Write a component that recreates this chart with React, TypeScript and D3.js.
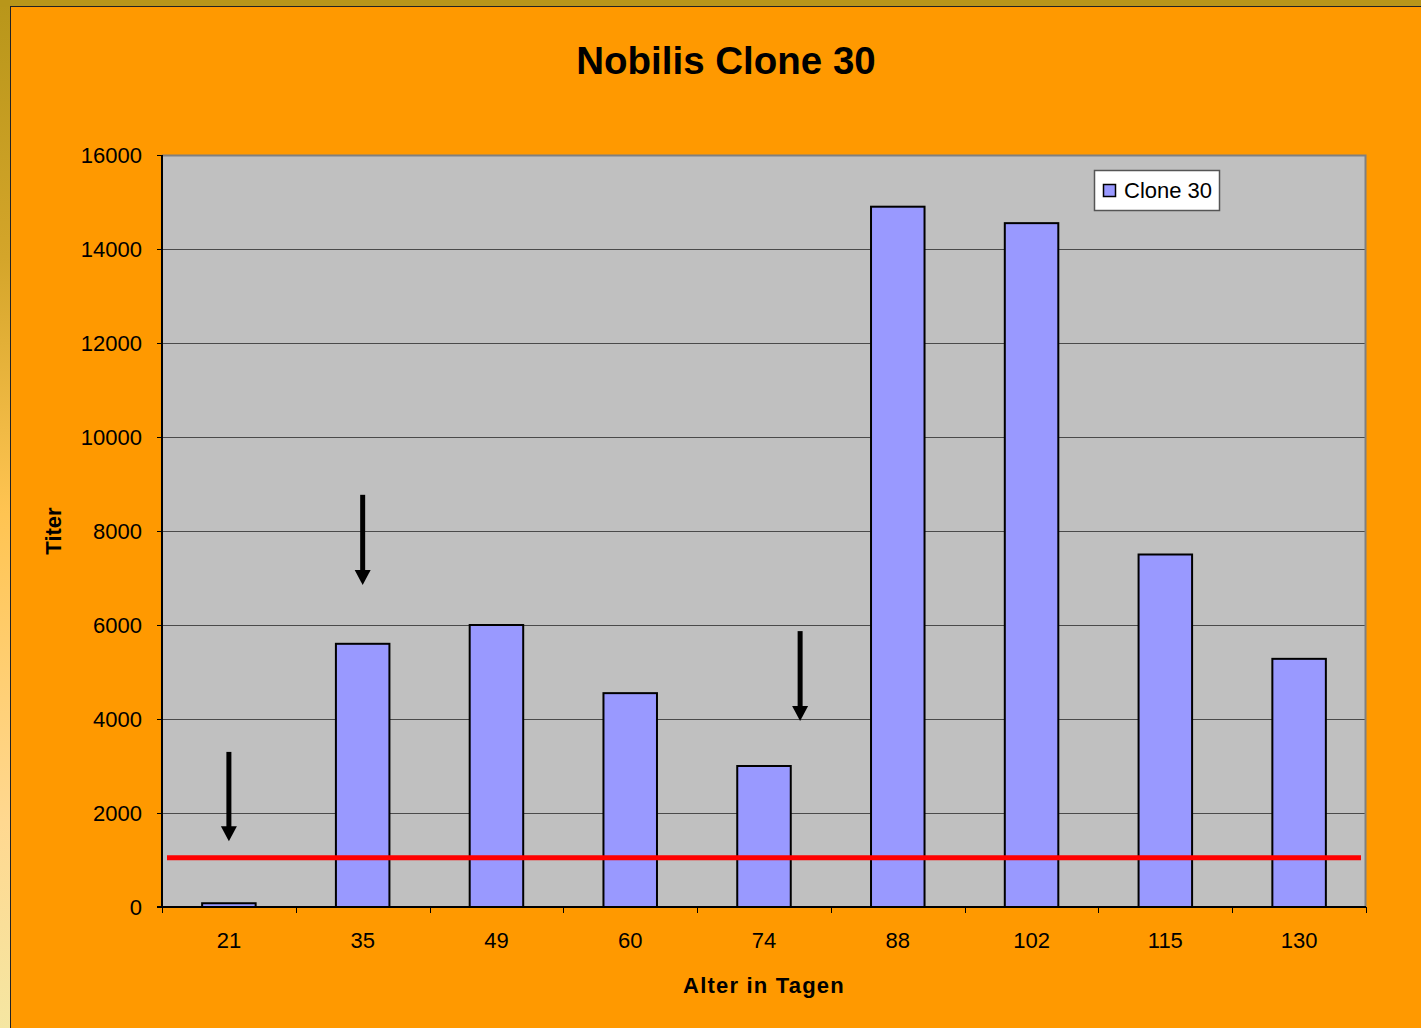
import React, { useEffect, useRef } from 'react';
import * as d3 from 'd3';

// chart data
const categories = ['21', '35', '49', '60', '74', '88', '102', '115', '130'];
const titerValues = [80, 5600, 6000, 4550, 3000, 14900, 14550, 7500, 5280];
const yTicks = [0, 2000, 4000, 6000, 8000, 10000, 12000, 14000, 16000];
const thresholdValue = 1050;
// arrows: x position in category units (0.5 = centre of first band), from/to in titer units
const arrowX = [0.5, 1.5, 4.77];
const arrowFrom = [3300, 8770, 5870];
const arrowTo = [1400, 6850, 3960];

const W = 1421;
const H = 1028;
const FONT = '"Liberation Sans", Arial, sans-serif';

export default function App() {
  const svgRef = useRef<SVGSVGElement>(null);

  useEffect(() => {
    if (!svgRef.current) return;
    const root = d3.select(svgRef.current);
    root.selectAll('*').remove();
    root.attr('width', W).attr('height', H);

    const defs = root.append('defs');
    const grad = defs
      .append('linearGradient')
      .attr('id', 'edgeGrad')
      .attr('x1', 0)
      .attr('y1', 0)
      .attr('x2', 0)
      .attr('y2', 1);
    [
      [0, '#B8961A'],
      [0.25, '#D4A52A'],
      [0.5, '#FFC452'],
      [0.8, '#FFD890'],
      [1, '#F5E6A2'],
    ].forEach(([o, c]) => grad.append('stop').attr('offset', o as number).attr('stop-color', c as string));

    // frame
    root.append('rect').attr('x', 0).attr('y', 0).attr('width', W).attr('height', H).attr('fill', 'url(#edgeGrad)');
    root.append('rect').attr('x', 0).attr('y', 0).attr('width', W).attr('height', 7).attr('fill', '#B8961A');
    root
      .append('rect')
      .attr('x', 10.5)
      .attr('y', 6.5)
      .attr('width', W)
      .attr('height', H)
      .attr('fill', '#FF9900')
      .attr('stroke', '#222')
      .attr('stroke-width', 1);

    const margin = { top: 155, left: 162 };
    const width = 1366 - margin.left;
    const height = 907 - margin.top;

    const g = root.append('g').attr('transform', `translate(${margin.left},${margin.top})`);

    const x = d3.scaleBand().domain(categories).range([0, width]).paddingInner(0.6).paddingOuter(0.3);
    const xLin = d3.scaleLinear().domain([0, categories.length]).range([0, width]);
    const y = d3.scaleLinear().domain([0, 16000]).range([height, 0]);

    // plot area
    g.append('rect').attr('width', width).attr('height', height).attr('fill', '#C0C0C0');

    // grid lines
    g.append('g')
      .selectAll('line')
      .data(yTicks.slice(1))
      .enter()
      .append('line')
      .attr('x1', 0)
      .attr('x2', width)
      .attr('y1', (d) => Math.round(y(d)) + 0.5)
      .attr('y2', (d) => Math.round(y(d)) + 0.5)
      .attr('stroke', '#4a4a4a')
      .attr('stroke-width', 1);

    // plot border top/right
    g.append('path')
      .attr('d', `M0,0.5H${width - 0.5}V${height}`)
      .attr('fill', 'none')
      .attr('stroke', '#808080')
      .attr('stroke-width', 2);

    // bars
    g.append('g')
      .selectAll('rect')
      .data(titerValues)
      .enter()
      .append('rect')
      .attr('x', (d, i) => x(categories[i])!)
      .attr('y', (d) => y(d))
      .attr('width', x.bandwidth())
      .attr('height', (d) => height - y(d))
      .attr('fill', '#9999FF')
      .attr('stroke', '#000')
      .attr('stroke-width', 2);

    // threshold line
    g.append('line')
      .attr('x1', 5)
      .attr('x2', width - 5)
      .attr('y1', y(thresholdValue))
      .attr('y2', y(thresholdValue))
      .attr('stroke', '#FF0000')
      .attr('stroke-width', 5);

    // arrows
    arrowX.forEach((ax, i) => {
      const cx = xLin(ax);
      const y0 = y(arrowFrom[i]);
      const y1 = y(arrowTo[i]);
      g.append('line')
        .attr('x1', cx)
        .attr('x2', cx)
        .attr('y1', y0)
        .attr('y2', y1 - 13)
        .attr('stroke', '#000')
        .attr('stroke-width', 5);
      g.append('path')
        .attr('d', `M${cx - 8},${y1 - 15}L${cx + 8},${y1 - 15}L${cx},${y1}Z`)
        .attr('fill', '#000');
    });

    // y axis
    const yAxis = g
      .append('g')
      .call(d3.axisLeft(y).tickValues(yTicks).tickSize(5).tickPadding(15).tickFormat((d) => String(d)));
    yAxis.select('.domain').attr('stroke', '#000').attr('stroke-width', 2).attr('d', `M0,0V${height}`);
    yAxis.selectAll('.tick line').attr('stroke', '#000');
    yAxis.selectAll('text').attr('font-family', FONT).attr('font-size', 22).attr('fill', '#000');

    // x axis
    const xAxis = g.append('g').attr('transform', `translate(0,${height})`);
    xAxis
      .append('line')
      .attr('x1', -5)
      .attr('x2', width)
      .attr('stroke', '#000')
      .attr('stroke-width', 2);
    xAxis
      .selectAll('.xtick')
      .data(d3.range(categories.length + 1))
      .enter()
      .append('line')
      .attr('x1', (d) => Math.round(xLin(d)) + 0.5)
      .attr('x2', (d) => Math.round(xLin(d)) + 0.5)
      .attr('y1', 0)
      .attr('y2', 6)
      .attr('stroke', '#000');
    xAxis
      .selectAll('text')
      .data(categories)
      .enter()
      .append('text')
      .attr('x', (d) => x(d)! + x.bandwidth() / 2)
      .attr('y', 41)
      .attr('text-anchor', 'middle')
      .attr('font-family', FONT)
      .attr('font-size', 22)
      .text((d) => d);

    // titles
    root
      .append('text')
      .attr('x', 726)
      .attr('y', 74)
      .attr('text-anchor', 'middle')
      .attr('font-family', FONT)
      .attr('font-weight', 'bold')
      .attr('font-size', 38.5)
      .text('Nobilis Clone 30');
    root
      .append('text')
      .attr('x', margin.left + width / 2)
      .attr('y', 993)
      .attr('text-anchor', 'middle')
      .attr('font-family', FONT)
      .attr('font-weight', 'bold')
      .attr('font-size', 22)
      .attr('letter-spacing', 1.2)
      .text('Alter in Tagen');
    root
      .append('text')
      .attr('transform', `translate(61,${margin.top + height / 2}) rotate(-90)`)
      .attr('text-anchor', 'middle')
      .attr('font-family', FONT)
      .attr('font-weight', 'bold')
      .attr('font-size', 22)
      .text('Titer');

    // legend
    const lg = root.append('g').attr('transform', 'translate(1094,170)');
    lg.append('rect')
      .attr('x', 0.5)
      .attr('y', 0.5)
      .attr('width', 125)
      .attr('height', 40)
      .attr('fill', '#fff')
      .attr('stroke', '#555')
      .attr('stroke-width', 1.5);
    lg.append('rect')
      .attr('x', 9.5)
      .attr('y', 14.5)
      .attr('width', 12)
      .attr('height', 12)
      .attr('fill', '#9999FF')
      .attr('stroke', '#000')
      .attr('stroke-width', 1.5);
    lg.append('text')
      .attr('x', 30)
      .attr('y', 28)
      .attr('font-family', FONT)
      .attr('font-size', 22)
      .text('Clone 30');
  }, []);

  return (
    <div style={{ position: 'absolute', left: 0, top: 0 }}>
      <svg ref={svgRef} style={{ display: 'block' }} />
    </div>
  );
}
